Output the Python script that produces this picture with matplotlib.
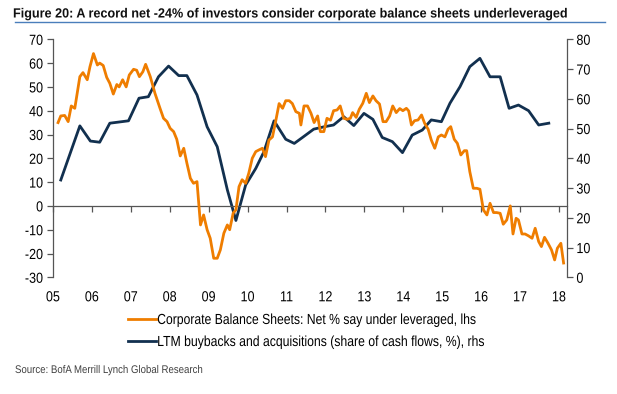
import matplotlib
matplotlib.use("Agg")
import matplotlib.pyplot as plt
from matplotlib.lines import Line2D
from matplotlib.patheffects import AbstractPathEffect
from matplotlib.transforms import Affine2D

# ---------------- data ----------------
orange_x = [2005.13, 2005.20, 2005.30, 2005.39, 2005.47, 2005.56, 2005.69, 2005.77, 2005.88, 2005.95,
            2006.04, 2006.14, 2006.20, 2006.29, 2006.38, 2006.46, 2006.55, 2006.64, 2006.70, 2006.79,
            2006.88, 2006.96, 2007.07, 2007.15, 2007.22, 2007.31, 2007.38, 2007.50, 2007.62, 2007.75,
            2007.84, 2007.93, 2008.01, 2008.10, 2008.18, 2008.27, 2008.36, 2008.44, 2008.53, 2008.61,
            2008.70, 2008.79, 2008.87, 2008.96, 2009.04, 2009.13, 2009.22, 2009.30, 2009.39, 2009.48,
            2009.54, 2009.63, 2009.70, 2009.78, 2009.86, 2009.95, 2010.03, 2010.12, 2010.21, 2010.29,
            2010.38, 2010.46, 2010.55, 2010.64, 2010.72, 2010.81, 2010.90, 2010.98, 2011.07, 2011.15,
            2011.24, 2011.33, 2011.37, 2011.45, 2011.54, 2011.63, 2011.71, 2011.80, 2011.87, 2011.96,
            2012.04, 2012.13, 2012.21, 2012.30, 2012.38, 2012.47, 2012.56, 2012.64, 2012.70, 2012.79,
            2012.87, 2012.96, 2013.05, 2013.13, 2013.22, 2013.30, 2013.39, 2013.48, 2013.56, 2013.65,
            2013.73, 2013.82, 2013.91, 2013.99, 2014.08, 2014.14, 2014.21, 2014.29, 2014.38, 2014.47,
            2014.55, 2014.64, 2014.72, 2014.81, 2014.90, 2014.98, 2015.07, 2015.15, 2015.22, 2015.31,
            2015.39, 2015.48, 2015.57, 2015.63, 2015.71, 2015.80, 2015.89, 2015.97, 2016.06, 2016.15,
            2016.23, 2016.32, 2016.40, 2016.49, 2016.57, 2016.66, 2016.75, 2016.82, 2016.90, 2016.96,
            2017.05, 2017.13, 2017.22, 2017.31, 2017.39, 2017.48, 2017.55, 2017.63, 2017.72, 2017.81,
            2017.89, 2017.96, 2018.05, 2018.12]
orange_y = [35, 37.8, 38, 35.4, 42, 41, 54.3, 56, 53, 58.5,
            64, 59.2, 60, 59, 54, 51.5, 47, 51, 50, 53,
            50, 55, 57.4, 57, 54.3, 56.4, 59.5, 54.3, 47.3, 41,
            36.8, 35.4, 32.6, 31.2, 28, 21, 24.2, 18, 11.6, 9.5,
            10.2, -8, -3.8, -10, -13.6, -22, -22, -18.5, -11.5, -8,
            -10, -3, -1.7, 8.1, 11, 9.5, 13.7, 20, 22.8, 23.5,
            24.2, 20.7, 27.7, 29, 35.4, 43, 41, 44.2, 44.2, 43,
            39.6, 38.9, 34, 42, 42, 38.9, 35, 37.8, 31.2, 31.2,
            36.8, 36, 40, 40.3, 42, 36.8, 36.4, 36.8, 39.2, 37.2,
            40.6, 43.1, 47.3, 43.4, 46.2, 44.2, 42.8, 35.4, 35.4, 37.8,
            42, 39.2, 40.9, 40, 41, 39.9, 34, 35.8, 36.1, 38.2,
            34.7, 32.2, 27.7, 24.2, 29, 29.8, 29, 32.2, 33.3, 28,
            26.3, 21.4, 23.2, 23.2, 14.4, 7.4, 7.4, 7, -1.7, -3.8,
            1.1, -2.8, -2.8, -3.1, -7.7, -5.9, 0, -11.8, -5.2, -5.9,
            -11.8, -11.8, -12.6, -13.6, -9.4, -15, -17.1, -13.2, -15.7, -18.5,
            -22.7, -17.8, -15.7, -24]

blue_x = [2005.20, 2005.69, 2005.96, 2006.20, 2006.46, 2006.94, 2007.21, 2007.45, 2007.71, 2007.97,
          2008.23, 2008.44, 2008.70, 2008.96, 2009.22, 2009.48, 2009.70, 2009.95, 2010.21, 2010.42,
          2010.68, 2010.98, 2011.20, 2011.41, 2011.70, 2011.97, 2012.21, 2012.47, 2012.73, 2012.99,
          2013.22, 2013.46, 2013.72, 2013.98, 2014.23, 2014.49, 2014.72, 2014.98, 2015.20, 2015.46,
          2015.71, 2015.97, 2016.23, 2016.49, 2016.72, 2016.96, 2017.22, 2017.48, 2017.74]
blue_y = [32.7, 50.9, 45.8, 45.4, 51.8, 52.6, 60.2, 60.7, 67.4, 71,
          67.8, 67.8, 61.3, 50.6, 43.9, 29.4, 19.1, 31, 36.6, 42.2,
          52.6, 46.4, 45, 47, 49.8, 50.6, 51.2, 54, 51, 55.1,
          53.1, 47, 45.6, 41.9, 47.8, 49.5, 52.9, 52.3, 58.5, 64.1,
          70.8, 73.6, 67.4, 67.4, 56.8, 57.9, 56, 51.2, 51.8]

year_ticks = list(range(2005, 2019))
year_labels = ["05", "06", "07", "08", "09", "10", "11", "12", "13", "14", "15", "16", "17", "18"]
left_ticks = [70, 60, 50, 40, 30, 20, 10, 0, -10, -20, -30]
right_ticks = [80, 70, 60, 50, 40, 30, 20, 10, 0]

title_text = "Figure 20: A record net -24% of investors consider corporate balance sheets underleveraged"
legend_labels = ["Corporate Balance Sheets: Net % say under leveraged, lhs",
                 "LTM buybacks and acquisitions (share of cash flows, %), rhs"]
source_text = "Source: BofA Merrill Lynch Global Research"


# horizontal compression of text (emulates a narrow typeface)
class Narrow(AbstractPathEffect):
    def __init__(self, sx, anchor="left"):
        super().__init__()
        self.sx = sx
        self.anchor = anchor

    def draw_path(self, renderer, gc, tpath, affine, rgbFace=None):
        ext = tpath.get_extents()
        if self.anchor == "left":
            px = 0.0
        elif self.anchor == "right":
            px = ext.x1
        else:
            px = 0.5 * (ext.x0 + ext.x1)
        x0, _ = affine.transform((px, 0))
        aff = affine + Affine2D().translate(-x0, 0).scale(self.sx, 1).translate(x0, 0)
        renderer.draw_path(gc, tpath, aff, rgbFace)


# ---------------- style ----------------
ORANGE = "#EF7D00"
NAVY = "#12304F"
AXCOL = "#555555"
plt.rcParams["font.family"] = ["Liberation Sans", "DejaVu Sans"]
plt.rcParams["axes.unicode_minus"] = False

W, H = 617, 394
fig = plt.figure(figsize=(W / 100, H / 100), dpi=100)
ax = fig.add_axes([53 / W, 1 - 277.3 / H, (566.7 - 53) / W, (277.3 - 39.3) / H])
ax2 = ax.twinx()

ax.plot(orange_x, orange_y, color=ORANGE, lw=2.0, solid_joinstyle="round", zorder=3)
ax2.plot(blue_x, blue_y, color=NAVY, lw=2.0, solid_joinstyle="round", zorder=3)

ax.set_xlim(2005, 2018.2)
ax.set_ylim(-30, 70)
ax2.set_ylim(0, 80)
ax.set_yticks(left_ticks)
ax2.set_yticks(right_ticks)

for a in (ax, ax2):
    a.spines["top"].set_visible(False)
    for sp in a.spines.values():
        sp.set_color(AXCOL)
        sp.set_linewidth(0.9)
ax2.spines["bottom"].set_visible(False)
ax2.spines["left"].set_visible(False)
ax.spines["right"].set_visible(False)
ax.spines["bottom"].set_position(("data", 0))
ax.set_xticks(year_ticks)
ax.tick_params(axis="x", direction="out", length=4, width=0.9, color=AXCOL, labelbottom=False)
ax.tick_params(axis="y", direction="out", length=4, width=0.9, color=AXCOL, labelsize=10.5, pad=3)
ax2.tick_params(axis="y", direction="out", length=4, width=0.9, color=AXCOL, labelsize=10.5, pad=3)
ax.set_zorder(ax2.get_zorder() + 1)
ax.patch.set_visible(False)

TICK_SX = 0.86
for lab in ax.get_yticklabels():
    lab.set_path_effects([Narrow(TICK_SX, "right")])
for lab in ax2.get_yticklabels():
    lab.set_path_effects([Narrow(TICK_SX, "left")])

for yr, lab in zip(year_ticks, year_labels):
    ax.annotate(lab, xy=(yr, 0), xycoords=("data", "axes fraction"), xytext=(0, -20),
                textcoords="offset pixels", ha="center", va="center", fontsize=10.5,
                path_effects=[Narrow(TICK_SX, "center")])

# title + underline
t = fig.text(13 / W, 1 - 14.5 / H, title_text, fontsize=10.5, fontweight="bold", color="#111111",
             ha="left", va="center")
fig.add_artist(Line2D([15 / W, 605 / W], [1 - 22 / H, 1 - 22 / H], color="#4A7EBB", lw=1.0))

# legend
handles = [Line2D([], [], color=ORANGE, lw=2), Line2D([], [], color=NAVY, lw=2)]
leg = fig.legend(handles, legend_labels, loc="center left", bbox_to_anchor=(128 / W, 1 - 331 / H),
                 frameon=False, fontsize=10.5, handlelength=1.9, handletextpad=0.1,
                 labelspacing=0.55, borderpad=0, borderaxespad=0)

s = fig.text(15 / W, 1 - 370 / H, source_text, fontsize=8, color="#404040", ha="left", va="center")

fig.canvas.draw()
tw = t.get_window_extent().width
if tw > 590:
    t.set_fontsize(10.5 * 590 / tw)
    fig.canvas.draw()
t.set_path_effects([Narrow(550 / t.get_window_extent().width, "left")])
s.set_path_effects([Narrow(189 / s.get_window_extent().width, "left")])
targets = [321, 330]
for txt, tw in zip(leg.get_texts(), targets):
    txt.set_path_effects([Narrow(tw / txt.get_window_extent().width, "left")])

fig.savefig("out.png", dpi=100)
